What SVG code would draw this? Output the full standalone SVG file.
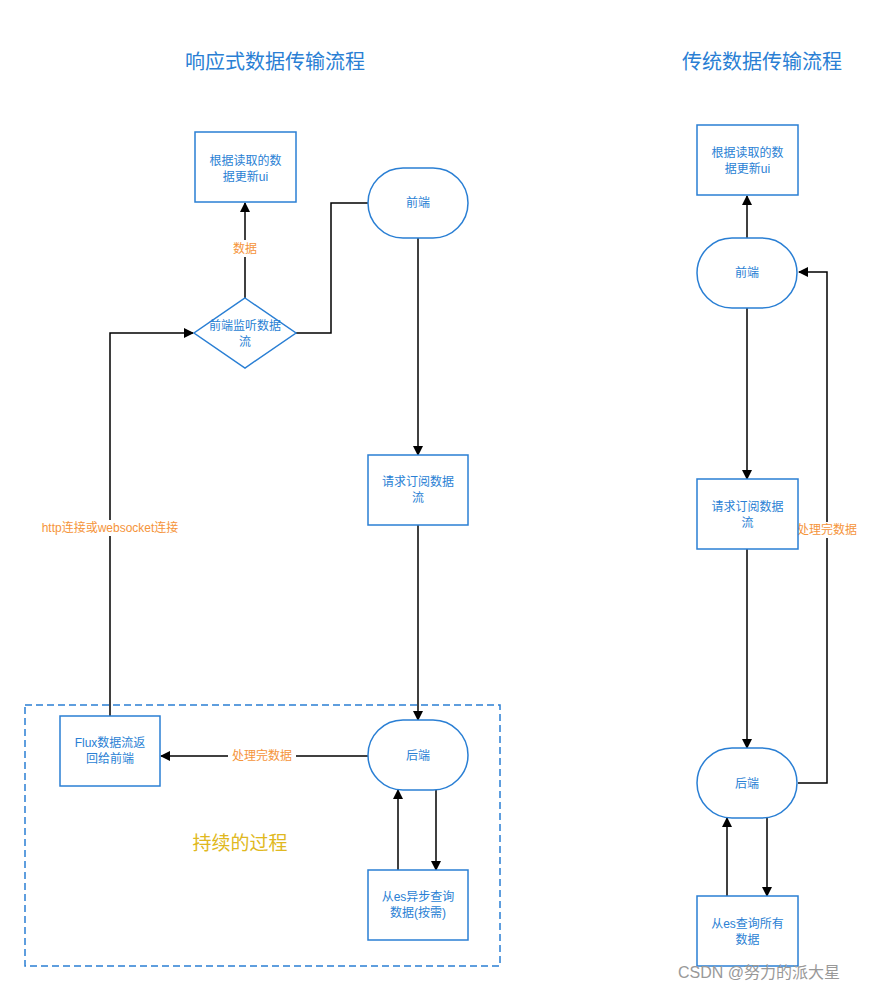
<svg xmlns="http://www.w3.org/2000/svg" width="885" height="991" viewBox="0 0 885 991">
<defs>
<marker id="ar" markerWidth="10" markerHeight="10" refX="9" refY="5" orient="auto" markerUnits="userSpaceOnUse"><path d="M0,0 L10,5 L0,10 Z" fill="#000"/></marker>
<style>
.n{fill:#fff;stroke:#2a7fd4;stroke-width:1.5}
.t{font-family:"Liberation Sans","Noto Sans CJK SC",sans-serif;font-size:12px;fill:#2a7fd4;text-anchor:middle}
.h{font-family:"Liberation Sans","Noto Sans CJK SC",sans-serif;font-size:20px;fill:#2a7fd4;text-anchor:middle}
.l{font-family:"Liberation Sans","Noto Sans CJK SC",sans-serif;font-size:12px;fill:#f5943a;text-anchor:middle}
.c{fill:none;stroke:#000;stroke-width:1.5}
.a{marker-end:url(#ar)}
</style>
</defs>
<rect width="885" height="991" fill="#fff"/>
<text class="h" x="275" y="69">响应式数据传输流程</text>
<text class="h" x="762" y="69">传统数据传输流程</text>
<rect x="25" y="705" width="475" height="261" fill="none" stroke="#2a7fd4" stroke-width="1.5" stroke-dasharray="7,4"/>
<text x="240" y="850" font-family="Liberation Sans,Noto Sans CJK SC,sans-serif" font-size="19" fill="#e0b820" text-anchor="middle">持续的过程</text>
<g id="connectors">
<path class="c a" d="M245,298 V203"/>
<path class="c" d="M296,333 H331 V203 H368"/>
<path class="c a" d="M418,238 V455"/>
<path class="c a" d="M418,525 V720"/>
<path class="c a" d="M368,756 H161"/>
<path class="c a" d="M110,716 V333 H193"/>
<path class="c a" d="M398,870 V790"/>
<path class="c a" d="M436,790 V870"/>
<path class="c a" d="M747,238 V196"/>
<path class="c a" d="M747,308 V479"/>
<path class="c a" d="M747,549 V748"/>
<path class="c a" d="M798,783 H827 V272 H799"/>
<path class="c a" d="M727,896 V818"/>
<path class="c a" d="M767,818 V896"/>
<rect x="230" y="240" width="30" height="17" fill="#fff"/>
<text class="l" x="245" y="253">数据</text>
<rect x="228" y="748" width="68" height="16" fill="#fff"/>
<text class="l" x="262" y="760">处理完数据</text>
<rect x="30" y="520" width="160" height="16" fill="#fff"/>
<text class="l" x="110" y="532">http连接或websocket连接</text>
<rect x="794" y="522" width="66" height="16" fill="#fff"/>
<text class="l" x="827" y="534">处理完数据</text>
</g>
<g id="l_ui"><rect class="n" x="195" y="132" width="101" height="70"/><text class="t" x="245.5" y="165">根据读取的数</text><text class="t" x="245.5" y="181">据更新ui</text></g>
<g id="l_front"><rect class="n" x="368" y="168" width="100" height="70" rx="35"/><text class="t" x="418" y="207">前端</text></g>
<g id="l_listen"><path class="n" d="M245,298 L296,333 L245,368 L194,333 Z"/><text class="t" x="245" y="330">前端监听数据</text><text class="t" x="245" y="346">流</text></g>
<g id="l_sub"><rect class="n" x="368" y="455" width="100" height="70"/><text class="t" x="418" y="486">请求订阅数据</text><text class="t" x="418" y="502">流</text></g>
<g id="l_back"><rect class="n" x="368" y="720" width="100" height="70" rx="35"/><text class="t" x="418" y="760">后端</text></g>
<g id="l_flux"><rect class="n" x="60" y="716" width="100" height="70"/><text class="t" x="110" y="747">Flux数据流返</text><text class="t" x="110" y="763">回给前端</text></g>
<g id="l_es"><rect class="n" x="368" y="870" width="100" height="70"/><text class="t" x="418" y="901">从es异步查询</text><text class="t" x="418" y="917">数据(按需)</text></g>
<g id="r_ui"><rect class="n" x="697" y="125" width="101" height="70"/><text class="t" x="747.5" y="157">根据读取的数</text><text class="t" x="747.5" y="173">据更新ui</text></g>
<g id="r_front"><rect class="n" x="697" y="238" width="100" height="70" rx="35"/><text class="t" x="747" y="277">前端</text></g>
<g id="r_sub"><rect class="n" x="697" y="479" width="101" height="70"/><text class="t" x="747.5" y="511">请求订阅数据</text><text class="t" x="747.5" y="527">流</text></g>
<g id="r_back"><rect class="n" x="697" y="748" width="100" height="70" rx="35"/><text class="t" x="747" y="788">后端</text></g>
<g id="r_es"><rect class="n" x="697" y="896" width="101" height="70"/><text class="t" x="747.5" y="928">从es查询所有</text><text class="t" x="747.5" y="944">数据</text></g>
<text x="678" y="978" font-family="Liberation Sans,Noto Sans CJK SC,sans-serif" font-size="16" fill="#999">CSDN @努力的派大星</text>
</svg>
